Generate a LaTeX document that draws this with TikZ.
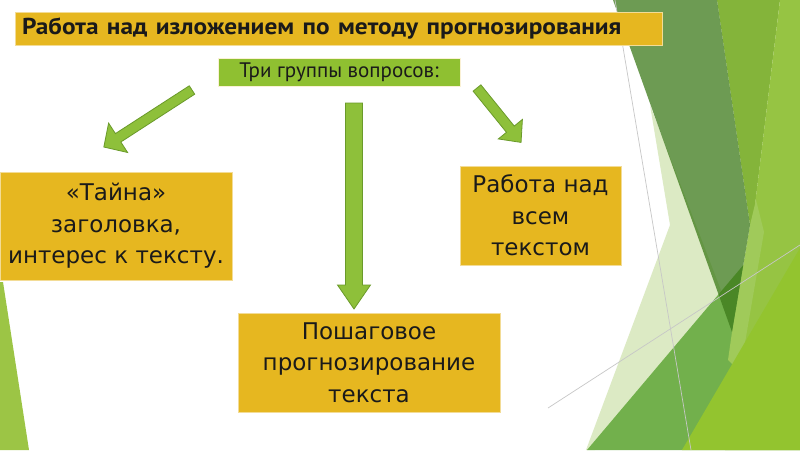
\documentclass[tikz,border=0pt]{standalone}
\usepackage{fontspec}
\setmainfont{PT Sans}
\newfontfamily\bodyfont{DejaVu Sans}
\definecolor{gold}{HTML}{E6B720}
\definecolor{goldedge}{HTML}{F3DC96}
\definecolor{grn}{HTML}{8FC031}
\definecolor{arrowfill}{HTML}{8EC03A}
\definecolor{arrowedge}{HTML}{6A9A2A}
\definecolor{txt}{HTML}{1A1A1A}
\definecolor{pale}{HTML}{DCEAC4}
\definecolor{medg}{HTML}{72B04C}
\definecolor{wedg}{HTML}{84B43A}
\definecolor{colg}{HTML}{96C443}
\definecolor{lightg}{HTML}{A0CA5A}
\definecolor{darkg}{HTML}{3D7A1A}
\definecolor{brightg}{HTML}{93C42F}
\definecolor{sliver}{HTML}{9CC545}
\newcommand{\blockarr}[7]{%
  \begin{scope}[shift={(#1,#2)},rotate=#3]
    \draw[barrow] (0,-#5) -- (#4-#7,-#5) -- (#4-#7,-#6) -- (#4,0) -- (#4-#7,#6) -- (#4-#7,#5) -- (0,#5) -- cycle;
  \end{scope}}
\begin{document}
\begin{tikzpicture}[x=1pt,y=-1pt,
  goldbox/.style={draw=goldedge, line width=0.8pt, fill=gold, align=center, inner sep=0pt, text=txt,
    font=\bodyfont\fontsize{23}{31.5}\selectfont},
  greenbox/.style={draw=goldedge!40!white, line width=0.6pt, fill=grn, inner sep=0pt, text=txt,
    font=\fontsize{21}{24}\selectfont},
  titlebox/.style={draw=goldedge, line width=0.8pt, fill=gold, inner xsep=7pt, inner ysep=0pt, text=txt,
    font=\fontsize{23}{26}\selectfont\bfseries, align=left},
  barrow/.style={fill=arrowfill, draw=arrowedge, line width=0.8pt, line join=miter},
  glines/.style={draw=black!22, line width=0.7pt}]
\useasboundingbox (0,0) rectangle (800,450);
\fill[white] (0,0) rectangle (800,450);
% decoration right
\fill[pale] (650,105) -- (740,340) -- (595,450) -- (586,450) -- (670,225) -- cycle;
\fill[wedg] (717,0) -- (780,0) -- (752,230) -- (750,225) -- cycle;
\fill[medg] (587,450) -- (800,198) -- (800,450) -- cycle;
\fill[colg] (780,0) -- (800,0) -- (800,450) -- (725,450) -- cycle;
\fill[lightg] (750,225) -- (756,200) -- (764,232) -- (740,372) -- (728,360) -- (732,332) -- cycle;
\fill[darkg, opacity=0.75] (613,0) -- (717,0) -- (750,225) -- (732,332) -- cycle;
\fill[brightg] (682,450) -- (800,248) -- (800,450) -- cycle;
% sliver left
\fill[sliver] (0,282) -- (3,282) -- (29,450) -- (0,450) -- cycle;
% thin lines
\draw[glines] (615,0) -- (691,450);
\draw[glines] (548,408) -- (800,245);
% title
\node[titlebox, minimum width=647pt, minimum height=33pt, text width=633pt] (title) at (338.5,28.5)
  {\scalebox{1.1}[1]{Работа над изложением по методу прогнозирования}};
\node[greenbox, minimum width=242pt, minimum height=28pt] (groups) at (339,72.5) {Три группы вопросов:};
% arrows
\blockarr{192}{90}{212.9}{105}{5}{17.5}{17}
\blockarr{354}{103}{270}{206}{8.5}{16.5}{24}
\blockarr{477}{88}{-51}{70}{5}{15.5}{17}
% boxes
\node[goldbox, minimum width=232pt, minimum height=108pt] (secret) at (116,226)
  {«Тайна»\\заголовка,\\интерес к тексту.};
\node[goldbox, minimum width=161pt, minimum height=99pt] (whole) at (540.5,215.5)
  {Работа над\\всем\\текстом};
\node[goldbox, minimum width=262pt, minimum height=99pt] (stepwise) at (369,362.5)
  {Пошаговое\\прогнозирование\\текста};
\end{tikzpicture}
\end{document}
